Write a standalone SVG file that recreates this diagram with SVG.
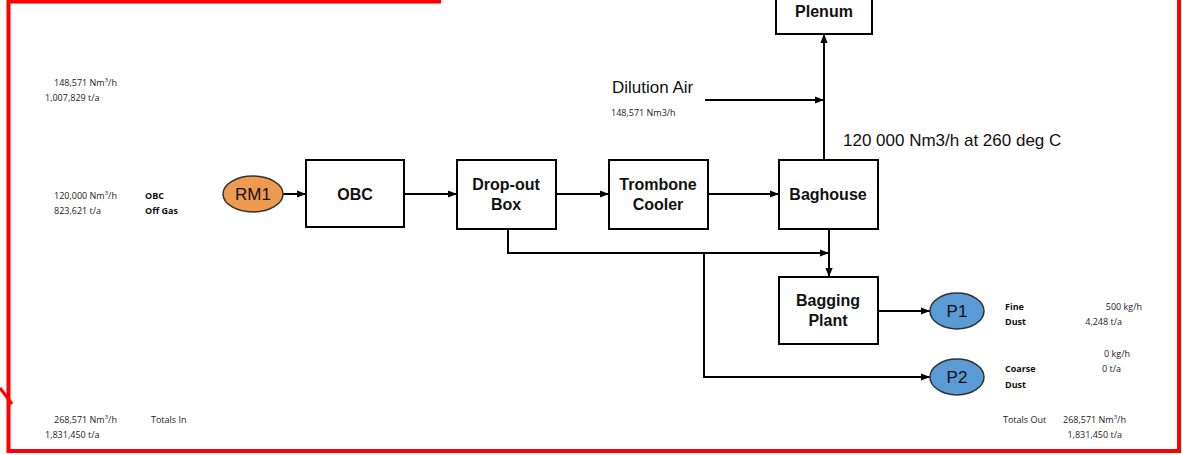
<svg xmlns="http://www.w3.org/2000/svg" width="1182" height="455" viewBox="0 0 1182 455">
<style>
.box{fill:#fff;stroke:#000;stroke-width:2}
.bt{font-family:"Liberation Sans",Arial,sans-serif;font-weight:bold;font-size:16px;fill:#111;text-anchor:middle}
.et{font-family:"Liberation Sans",Arial,sans-serif;font-size:17px;fill:#111;text-anchor:middle}
.sm{font-family:"Open Sans","Liberation Sans",sans-serif;font-size:9px;fill:#222}
.smb{font-family:"Open Sans","Liberation Sans",sans-serif;font-size:9px;font-weight:bold;fill:#111}
.lg{font-family:"Liberation Sans",Arial,sans-serif;font-size:17px;fill:#111}
.ln{fill:none;stroke:#000;stroke-width:2}
.red{fill:none;stroke:#f00;stroke-width:4}
</style>
<defs>
<marker id="ah" viewBox="0 0 10 10" refX="10" refY="5" markerWidth="4.5" markerHeight="4.5" orient="auto" markerUnits="strokeWidth">
<path d="M0,1 L10,5 L0,9 z" fill="#000"/>
</marker>
</defs>
<rect width="1182" height="455" fill="#fff"/>
<g id="frame">
<path class="red" d="M441,1.5 H8.5 V451 H1179 V0"/>
<path d="M0,388 L12,404" stroke="#f00" stroke-width="3"/>
</g>
<g id="connectors">
<path class="ln" d="M283,194 H306" marker-end="url(#ah)"/>
<path class="ln" d="M404,194 H457" marker-end="url(#ah)"/>
<path class="ln" d="M556,194 H609" marker-end="url(#ah)"/>
<path class="ln" d="M708,194 H779" marker-end="url(#ah)"/>
<path class="ln" d="M824,160 V34" marker-end="url(#ah)"/>
<path class="ln" d="M705,100 H824" marker-end="url(#ah)"/>
<path class="ln" d="M508,229 V253 H829" marker-end="url(#ah)"/>
<path class="ln" d="M829,229 V277" marker-end="url(#ah)"/>
<path class="ln" d="M704,253 V377 H930" marker-end="url(#ah)"/>
<path class="ln" d="M878,311 H930" marker-end="url(#ah)"/>
</g>
<g id="plenum"><rect class="box" x="776" y="-5" width="96" height="39"/><text class="bt" x="824" y="17">Plenum</text></g>
<g id="rm1"><ellipse cx="253" cy="194" rx="30" ry="18" fill="#EE9A50" stroke="#333" stroke-width="1.5"/><text class="et" x="253" y="200">RM1</text></g>
<g id="obc"><rect class="box" x="306" y="160" width="98" height="67"/><text class="bt" x="355" y="200">OBC</text></g>
<g id="dropout"><rect class="box" x="457" y="160" width="99" height="69"/><text class="bt" x="506" y="190">Drop-out</text><text class="bt" x="506" y="210">Box</text></g>
<g id="trombone"><rect class="box" x="609" y="160" width="99" height="69"/><text class="bt" x="658" y="190">Trombone</text><text class="bt" x="658" y="210">Cooler</text></g>
<g id="baghouse"><rect class="box" x="779" y="160" width="99" height="69"/><text class="bt" x="828" y="200">Baghouse</text></g>
<g id="bagging"><rect class="box" x="779" y="277" width="99" height="67"/><text class="bt" x="828" y="306">Bagging</text><text class="bt" x="828" y="326">Plant</text></g>
<g id="p1"><ellipse cx="957" cy="311" rx="27" ry="18" fill="#5B9BD5" stroke="#333" stroke-width="1.5"/><text class="et" x="957" y="317">P1</text></g>
<g id="p2"><ellipse cx="957" cy="377" rx="27" ry="18" fill="#5B9BD5" stroke="#333" stroke-width="1.5"/><text class="et" x="957" y="383">P2</text></g>
<g id="labels">
<text class="sm" x="54" y="86">148,571 Nm<tspan dy="-4" font-size="6">3</tspan><tspan dy="4">/h</tspan></text>
<text class="sm" x="45" y="101">1,007,829 t/a</text>
<text class="sm" x="54" y="199">120,000 Nm<tspan dy="-4" font-size="6">3</tspan><tspan dy="4">/h</tspan></text>
<text class="sm" x="54" y="214">823,621 t/a</text>
<text class="smb" x="145" y="199">OBC</text>
<text class="smb" x="145" y="214">Off Gas</text>
<text class="sm" x="54" y="423">268,571 Nm<tspan dy="-4" font-size="6">3</tspan><tspan dy="4">/h</tspan></text>
<text class="sm" x="45" y="438">1,831,450 t/a</text>
<text class="sm" x="151" y="423">Totals In</text>
<text class="lg" x="612" y="93">Dilution Air</text>
<text class="sm" x="611" y="116">148,571 Nm3/h</text>
<text class="lg" x="843" y="146">120 000 Nm3/h at 260 deg C</text>
<text class="smb" x="1005" y="310">Fine</text>
<text class="smb" x="1005" y="325">Dust</text>
<text class="sm" x="1142" y="310" text-anchor="end">500 kg/h</text>
<text class="sm" x="1122" y="325" text-anchor="end">4,248 t/a</text>
<text class="sm" x="1130" y="357" text-anchor="end">0 kg/h</text>
<text class="sm" x="1121" y="372" text-anchor="end">0 t/a</text>
<text class="smb" x="1005" y="372">Coarse</text>
<text class="smb" x="1005" y="388">Dust</text>
<text class="sm" x="1003" y="423">Totals Out</text>
<text class="sm" x="1063" y="423">268,571 Nm<tspan dy="-4" font-size="6">3</tspan><tspan dy="4">/h</tspan></text>
<text class="sm" x="1122" y="438" text-anchor="end">1,831,450 t/a</text>
</g>
</svg>
